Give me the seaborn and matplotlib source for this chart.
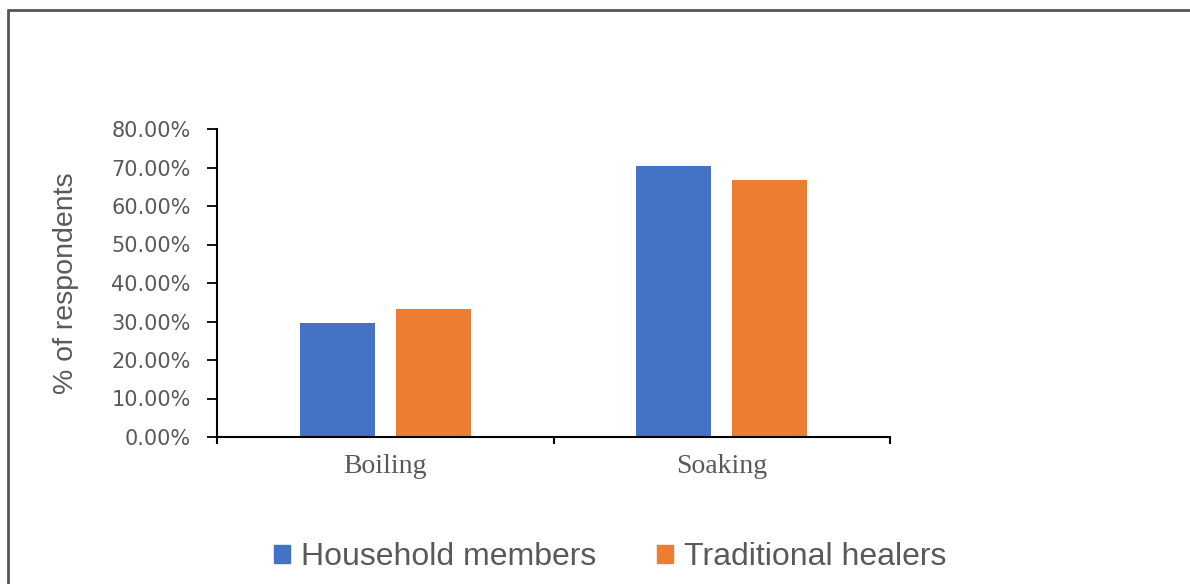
import matplotlib
matplotlib.use("Agg")
import matplotlib.pyplot as plt
import seaborn as sns
import pandas as pd
from matplotlib.lines import Line2D
from matplotlib.ticker import FuncFormatter

# Treatment methods and share of respondents (%) per group
methods = ["Boiling", "Soaking"]
groups = ["Household members", "Traditional healers"]
household_pct = [29.63, 70.37]
healers_pct = [33.33, 66.67]
y_ticks = [0, 10, 20, 30, 40, 50, 60, 70, 80]
colors = ["#4472C4", "#ED7D31"]

df = pd.DataFrame({
    "method": methods * 2,
    "group": [groups[0]] * len(methods) + [groups[1]] * len(methods),
    "pct": household_pct + healers_pct,
})

sns.set_style("white")
plt.rcParams["font.family"] = ["Liberation Sans", "DejaVu Sans"]
text_gray = "#595959"

W, H = 1190, 584
fig = plt.figure(figsize=(W / 100, H / 100), dpi=100)
ax = fig.add_axes([217 / W, 1 - 437 / H, (890 - 217) / W, (437 - 129) / H])

sns.barplot(data=df, x="method", y="pct", hue="group", hue_order=groups,
            palette=colors, saturation=1, width=0.57, gap=0.22,
            linewidth=0, ax=ax)

ax.set_xlim(-0.5, 1.5)
ax.set_ylim(0, 80)
ax.set_yticks(y_ticks)
ax.yaxis.set_major_formatter(FuncFormatter(lambda v, _: f"{v:.2f}%"))
ax.tick_params(axis="y", left=True, direction="out", length=7, width=1.3,
               color="black", pad=12, labelsize=15, labelcolor=text_gray)
for lbl in ax.get_yticklabels():
    lbl.set_fontfamily("DejaVu Sans")

# category boundaries carry the tick marks, labels sit between them
ax.set_xticks([-0.5, 0.5, 1.5])
ax.set_xticklabels(["", "", ""])
ax.set_xticks([0, 1], minor=True)
ax.set_xticklabels(methods, minor=True)
ax.tick_params(axis="x", which="major", bottom=True, direction="out",
               length=5, width=1.5, color="black")
ax.tick_params(axis="x", which="minor", bottom=True, length=0, pad=12,
               labelsize=20, labelcolor=text_gray)
for lbl in ax.get_xticklabels(minor=True):
    lbl.set_fontfamily("Liberation Serif")

for side in ("top", "right"):
    ax.spines[side].set_visible(False)
for side in ("left", "bottom"):
    ax.spines[side].set_color("black")
    ax.spines[side].set_linewidth(1.5)

ax.set_xlabel("")
ax.set_ylabel("% of respondents", fontsize=20.5, color=text_gray)
ax.yaxis.set_label_coords(-0.205, 0.5, transform=ax.transAxes)

leg = ax.get_legend()
if leg is not None:
    leg.remove()
handles = [plt.Rectangle((0, 0), 1, 1, color=c) for c in colors]
fig.legend(handles, groups, loc="center", ncol=2, frameon=False,
           bbox_to_anchor=(610 / W, 1 - 557 / H), fontsize=23,
           labelcolor=text_gray, handlelength=0.5, handleheight=0.5,
           handletextpad=0.35, columnspacing=1.9)

# outer frame lines
fig.add_artist(Line2D([8 / W, 1], [1 - 10 / H, 1 - 10 / H],
                      transform=fig.transFigure, color="#555555", lw=2))
fig.add_artist(Line2D([8 / W, 8 / W], [0, 1 - 10 / H],
                      transform=fig.transFigure, color="#555555", lw=2))

fig.savefig("out.png", dpi=100, facecolor="white")
